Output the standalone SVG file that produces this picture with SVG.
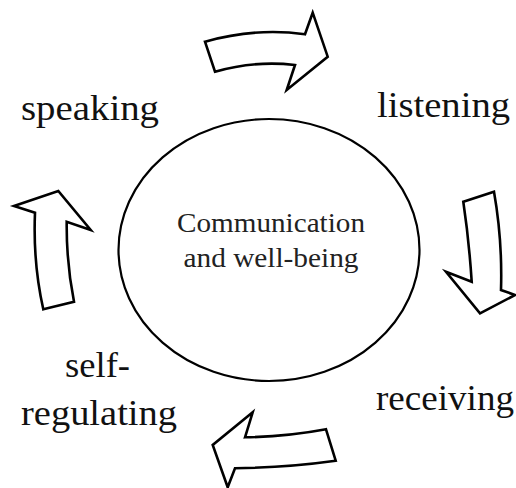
<svg xmlns="http://www.w3.org/2000/svg" width="516" height="488" viewBox="0 0 516 488">
<style>
.arr{fill:#fff;stroke:#000;stroke-width:2.6;stroke-linejoin:miter}
.t{font-family:'Liberation Serif','Times New Roman',serif}
</style>
<rect width="516" height="488" fill="#fff"/>
<g id="connectors">
<path class="arr" d="M205,41.7 Q256,27.4 305,34.3 L312.7,12.7 L327.7,56.7 L286.7,90 L295,65 Q255,60.3 215,71.7 Z"/>
<path class="arr" d="M463.3,201.7 L494,191.7 Q502.5,240 501,290 L515,295 L480,313.3 L446,271.7 L471.7,281.7 Q469,240 463.3,201.7 Z"/>
<path class="arr" d="M326,429.3 L335.7,460.7 Q287,467.5 235,468.3 L227.7,487.3 L212.7,445 L252.7,412.3 L245,437.3 Q287,436.7 326,429.3 Z"/>
<path class="arr" d="M43.3,309.3 L74,301.7 Q66.3,263 66.7,221.7 L90.7,230 L58.3,191 L14,206 L35,212.7 Q32.9,263 43.3,309.3 Z"/>
</g>
<g id="center" class="t" font-size="27" fill="#222">
<ellipse cx="269" cy="250" rx="150.5" ry="131" fill="none" stroke="#000" stroke-width="2.2"/>
<text x="271" y="232" text-anchor="middle" textLength="188" lengthAdjust="spacingAndGlyphs">Communication</text>
<text x="271" y="267" text-anchor="middle" textLength="175" lengthAdjust="spacingAndGlyphs">and well-being</text>
</g>
<g id="labels" class="t" font-size="35" fill="#111">
<g id="speaking"><text x="21" y="120" textLength="138" lengthAdjust="spacingAndGlyphs">speaking</text></g>
<g id="listening"><text x="377" y="117" textLength="133" lengthAdjust="spacingAndGlyphs">listening</text></g>
<g id="receiving"><text x="376" y="410" textLength="138" lengthAdjust="spacingAndGlyphs">receiving</text></g>
<g id="self-regulating">
<text x="65" y="377" textLength="65" lengthAdjust="spacingAndGlyphs">self-</text>
<text x="21" y="425" textLength="156" lengthAdjust="spacingAndGlyphs">regulating</text>
</g>
</g>
</svg>
